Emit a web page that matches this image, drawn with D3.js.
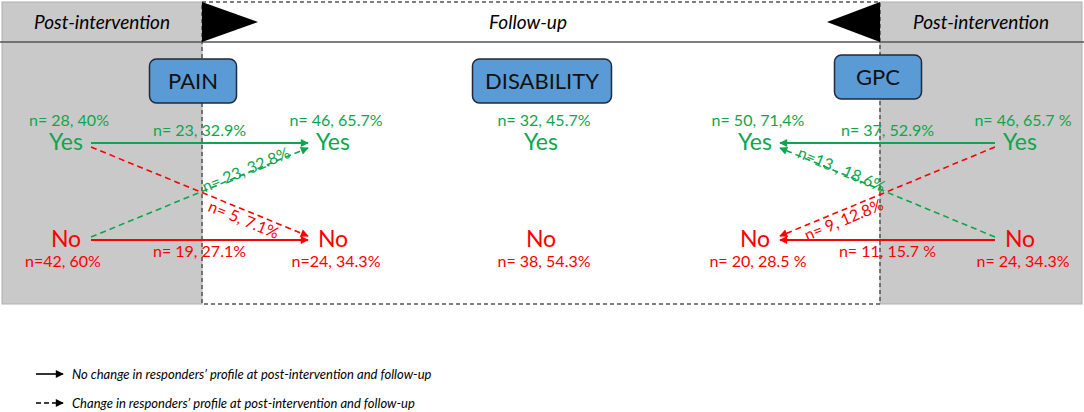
<!DOCTYPE html>
<html>
  <head>
    <meta charset="utf-8">
    <title>Responders' profile</title>
    <style>
      body { margin: 0; background: #fff; }
      svg { display: block; font-family: Lato, "Open Sans", sans-serif; }
    </style>
  </head>
  <body>
    <script src="https://d3js.org/d3.v7.min.js"></script>
    <script>
      // data
      const phases = ["Post-intervention", "Follow-up", "Post-intervention"]
      const measures = ["PAIN", "DISABILITY", "GPC"]
      const responses = ["Yes", "No"]
      const columns = ["PAIN post", "PAIN follow-up", "DISABILITY follow-up", "GPC follow-up", "GPC post"]
      const yesLabels = ["n= 28, 40%", "n= 46, 65.7%", "n= 32, 45.7%", "n= 50, 71,4%", "n= 46, 65.7 %"]
      const noLabels = ["n=42, 60%", "n=24, 34.3%", "n= 38, 54.3%", "n= 20, 28.5 %", "n= 24, 34.3%"]
      // [from, to, label]
      const painFlows = [
        ["Yes", "Yes", "n= 23, 32.9%"],
        ["No", "Yes", "n= 23, 32.8%"],
        ["Yes", "No", "n= 5, 7.1%"],
        ["No", "No", "n= 19, 27.1%"]
      ]
      const gpcFlows = [
        ["Yes", "Yes", "n= 37, 52.9%"],
        ["No", "Yes", "n=13 , 18.6%"],
        ["Yes", "No", "n= 9, 12.8%"],
        ["No", "No", "n= 11, 15.7 %"]
      ]
      const legendItems = [
        "No change in responders\u2019 profile at post-intervention and follow-up",
        "Change in responders\u2019 profile at post-intervention and follow-up"
      ]

      const w = 1084
      const h = 412
      const green = "#0da64c"
      const red = "#ff0000"
      const topY = 2, headerY = 42, bottomY = 304

      const svg = d3.select("body").append("svg")
        .attr("width", w)
        .attr("height", h)

      const defs = svg.append("defs")
      ;[["green", green], ["red", red], ["black", "#000"]].forEach(([id, c]) => {
        defs.append("marker")
          .attr("id", "arrow-" + id)
          .attr("viewBox", "0 0 10 10")
          .attr("refX", 9).attr("refY", 5)
          .attr("markerWidth", 10).attr("markerHeight", 8)
          .attr("markerUnits", "userSpaceOnUse")
          .attr("orient", "auto")
          .append("path")
            .attr("d", "M0,0L10,5L0,10Z")
            .attr("fill", c)
      })

      // phase bands
      const phaseX = d3.scaleOrdinal().domain([0, 1, 2, 3]).range([2, 202, 880, 1082])
      const xCol = d3.scaleOrdinal().domain(columns).range([66, 333, 541, 755, 1020])
      const xBox = d3.scaleOrdinal().domain(measures).range([193, 542, 878])
      const yBox = d3.scaleOrdinal().domain(measures).range([81, 81, 77])
      const y = d3.scalePoint().domain(responses).range([143, 240])

      // grey post-intervention bands
      svg.selectAll("rect.post")
        .data([0, 2])
        .enter()
        .append("rect")
          .attr("class", "post")
          .attr("x", d => phaseX(d))
          .attr("y", topY)
          .attr("width", d => phaseX(d + 1) - phaseX(d))
          .attr("height", bottomY - topY)
          .attr("fill", "#c9c9c9")
          .attr("stroke", "#b0b0b0")

      // dashed follow-up frame
      svg.append("rect")
        .attr("x", phaseX(1))
        .attr("y", topY)
        .attr("width", phaseX(2) - phaseX(1))
        .attr("height", bottomY - topY)
        .attr("fill", "none")
        .attr("stroke", "#555")
        .attr("stroke-width", 1.5)
        .attr("stroke-dasharray", "4,3")

      svg.append("line")
        .attr("x1", 0).attr("x2", w)
        .attr("y1", headerY).attr("y2", headerY)
        .attr("stroke", "#555")
        .attr("stroke-width", 1.5)

      // header triangles
      svg.append("path")
        .attr("d", `M${phaseX(1)},${topY}L${phaseX(1) + 56},${(topY + headerY) / 2}L${phaseX(1)},${headerY}Z`)
        .attr("fill", "#000")
      svg.append("path")
        .attr("d", `M${phaseX(2)},${topY}L${phaseX(2) - 53},${(topY + headerY) / 2}L${phaseX(2)},${headerY}Z`)
        .attr("fill", "#000")

      svg.selectAll("text.phase")
        .data(phases)
        .enter()
        .append("text")
          .attr("class", "phase")
          .attr("x", (d, i) => i === 1 ? 528 : (phaseX(i) + phaseX(i + 1)) / 2)
          .attr("y", 29)
          .attr("text-anchor", "middle")
          .attr("font-size", 19)
          .attr("font-style", "italic")
          .text(d => d)

      // measure boxes
      const boxW = { PAIN: 87, DISABILITY: 139, GPC: 87 }
      const boxes = svg.selectAll("g.box")
        .data(measures)
        .enter()
        .append("g")
          .attr("class", "box")
      boxes.append("rect")
        .attr("x", d => xBox(d) - boxW[d] / 2)
        .attr("y", d => yBox(d) - 22)
        .attr("width", d => boxW[d])
        .attr("height", 44)
        .attr("rx", 7)
        .attr("fill", "#5b9bd5")
        .attr("stroke", "#1f2a3e")
        .attr("stroke-width", 1.5)
      boxes.append("text")
        .attr("x", d => xBox(d))
        .attr("y", d => yBox(d) + 8)
        .attr("text-anchor", "middle")
        .attr("font-size", 22)
        .attr("fill", "#111")
        .text(d => d)

      // flows
      const drawFlows = function(flows, src, dst) {
        const dir = Math.sign(xCol(dst) - xCol(src))
        flows.forEach(([from, to, label]) => {
          const change = from !== to
          const x1 = xCol(src) + dir * 25
          const x2 = xCol(dst) - dir * 25
          const y1 = y(from) + (change ? (from === "Yes" ? 4 : -3) : 0)
          const y2 = y(to) + (change ? (to === "Yes" ? 5 : -4) : 0)
          const c = to === "Yes" ? green : red
          svg.append("line")
            .attr("x1", x1).attr("y1", y1)
            .attr("x2", x2).attr("y2", y2)
            .attr("stroke", c)
            .attr("stroke-width", change ? 1.6 : 1.8)
            .attr("stroke-dasharray", change ? "6,4" : null)
            .attr("marker-end", "url(#arrow-" + (to === "Yes" ? "green" : "red") + ")")

          const t = change ? 0.72 : 0.5
          const lx = x1 + (x2 - x1) * t
          const ly = y1 + (y2 - y1) * t
          let angle = Math.atan2(y2 - y1, x2 - x1) * 180 / Math.PI
          if (angle > 90) angle -= 180
          if (angle < -90) angle += 180
          let dy
          if (change) dy = to === "Yes" ? 2 : 15
          else dy = to === "Yes" ? -7 : 17
          svg.append("text")
            .attr("transform", `translate(${lx},${ly}) rotate(${angle})`)
            .attr("y", dy)
            .attr("text-anchor", "middle")
            .attr("font-size", 16)
            .attr("fill", c)
            .text(label)
        })
      }
      drawFlows(painFlows, "PAIN post", "PAIN follow-up")
      drawFlows(gpcFlows, "GPC post", "GPC follow-up")

      // nodes
      columns.forEach((col, i) => {
        responses.forEach(r => {
          const c = r === "Yes" ? green : red
          svg.append("text")
            .attr("x", xCol(col))
            .attr("y", y(r) + 7)
            .attr("text-anchor", "middle")
            .attr("font-size", 23)
            .attr("fill", c)
            .text(r)
          svg.append("text")
            .attr("x", xCol(col) + (i === 0 && r === "No" ? -3 : 3))
            .attr("y", r === "Yes" ? y(r) - 17 : y(r) + 27)
            .attr("text-anchor", "middle")
            .attr("font-size", 16)
            .attr("fill", c)
            .text(r === "Yes" ? yesLabels[i] : noLabels[i])
        })
      })

      // legend
      const legendY = d3.scalePoint().domain(legendItems).range([374, 403])
      const legend = svg.selectAll("g.legend")
        .data(legendItems)
        .enter()
        .append("g")
          .attr("class", "legend")
      legend.append("line")
        .attr("x1", 36).attr("x2", 63)
        .attr("y1", d => legendY(d)).attr("y2", d => legendY(d))
        .attr("stroke", "#000")
        .attr("stroke-width", 1.6)
        .attr("stroke-dasharray", (d, i) => i === 1 ? "5,3" : null)
        .attr("marker-end", "url(#arrow-black)")
      legend.append("text")
        .attr("x", 72)
        .attr("y", d => legendY(d) + 5)
        .attr("font-size", 13)
        .attr("font-style", "italic")
        .text(d => d)
    </script>
  </body>
</html>
